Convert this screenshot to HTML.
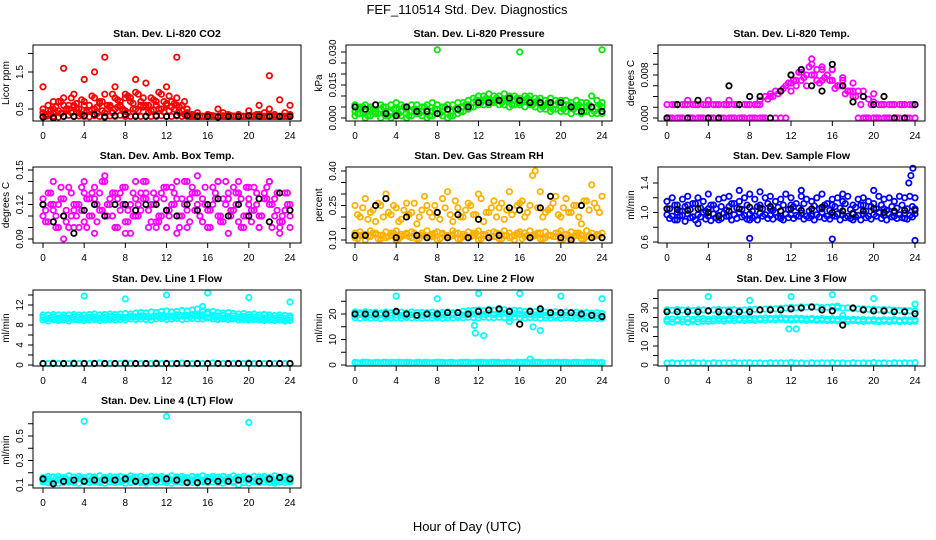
<!DOCTYPE html>
<html><head><meta charset="utf-8"><style>
body{margin:0;background:#fff;}
svg{display:block;font-family:"Liberation Sans",Arial,sans-serif;}
</style></head><body>
<svg id="chart" width="936" height="540" viewBox="0 0 936 540">
<text x="467" y="14" font-size="13" text-anchor="middle">FEF_110514  Std. Dev. Diagnostics</text>
<text x="467" y="531" font-size="13" text-anchor="middle">Hour of Day (UTC)</text>
</svg>
<script>
// ---- data (evenly spaced over 0-24 h unless x given; 48-length arrays sit at half-hour midpoints) ----
const hourTicks = [0,4,8,12,16,20,24];
// CO2
const co2A = [0.3,0.32,0.3,0.28,0.3,0.33,0.3,0.31,0.3,0.29,0.32,0.3,0.3,0.31,0.3,0.33,0.3,0.3,0.32,0.3,0.31,0.3,0.3,0.32,0.3,0.3,0.31,0.3,0.3,0.3,0.31,0.3,0.3,0.32,0.3,0.3,0.3,0.31,0.3,0.3,0.3,0.32,0.3,0.3,0.31,0.3,0.3,0.3,0.3];
const co2B = [0.5,0.6,0.4,0.7,0.8,0.6,0.9,0.5,0.7,0.6,0.8,0.7,0.9,0.6,0.8,0.7,0.9,0.8,0.95,0.7,0.6,0.8,0.7,0.9,0.6,0.7,0.8,0.6,0.5,0.35,0.3,0.3,0.35,0.3,0.3,0.4,0.3,0.3,0.35,0.3,0.3,0.3,0.35,0.4,0.5,0.35,0.3,0.4,0.35];
const co2D = [0.4,0.35,0.5,0.45,0.6,0.5,0.55,0.4,0.6,0.45,0.5,0.65,0.4,0.55,0.5,0.6,0.45,0.7,0.5,0.6,0.55,0.45,0.6,0.5,0.65,0.55,0.6,0.45,0.4,0.3,0.32,0.3,0.3,0.3,0.3,0.32,0.3,0.3,0.3,0.3,0.3,0.3,0.32,0.3,0.3,0.3,0.3,0.3,0.3];
const co2E = [0.35,0.45,0.55,0.7,0.5,0.8,0.65,0.75,0.45,0.85,0.55,0.7,0.6,0.9,0.75,0.5,0.85,0.65,0.9,0.8,0.6,0.75,0.95,0.7,0.85,0.65,0.55,0.7,0.3,0.32,0.3,0.3,0.33,0.3,0.3,0.3,0.32,0.3,0.3,0.3,0.3,0.35,0.3,0.3,0.32,0.3,0.3,0.3];
const co2F = [0.3,0.35,0.4,0.38,0.45,0.4,0.5,0.35,0.42,0.48,0.38,0.45,0.5,0.4,0.55,0.45,0.4,0.5,0.45,0.55,0.4,0.48,0.5,0.42,0.45,0.5,0.4,0.35,0.3,0.3,0.3,0.3,0.3,0.3,0.3,0.3,0.3,0.3,0.3,0.3,0.3,0.3,0.3,0.3,0.3,0.3,0.3,0.3];
const co2C = [1.1,0.7,1.6,0.6,1.3,1.5,1.9,1.1,0.8,1.3,1.2,0.6,1.1,1.9,0.5,0.4,0.3,0.5,0.35,0.3,0.45,0.6,1.4,0.75,0.6];
const co2K = [0.28,0.26,0.3,0.3,0.32,0.35,0.28,0.32,0.35,0.3,0.3,0.32,0.3,0.33,0.32,0.3,0.3,0.28,0.3,0.3,0.32,0.3,0.3,0.3,0.3];
// Pressure
const pLow = [0.001,0.002,0,0.001,0.002,0,0.001,0,0.002,0.001,0,0.001,0.002,0.001,0,0.001,0.002,0.001,0,0.001,0.002,0.003,0.004,0.005,0.006,0.006,0.006,0.007,0.006,0.006,0.005,0.006,0.006,0.005,0.006,0.005,0.004,0.004,0.003,0.004,0.003,0.003,0.002,0.003,0.002,0.003,0.002,0.002,0.002];
const pMid = [0.003,0.004,0.003,0.004,0.003,0.004,0.003,0.003,0.004,0.003,0.004,0.003,0.004,0.003,0.004,0.003,0.004,0.003,0.004,0.003,0.004,0.005,0.006,0.007,0.008,0.008,0.008,0.008,0.008,0.008,0.008,0.008,0.007,0.008,0.008,0.007,0.006,0.006,0.006,0.006,0.005,0.006,0.005,0.005,0.005,0.005,0.005,0.005,0.005];
const pHigh = [0.006,0.005,0.006,0.005,0.006,0.006,0.005,0.006,0.007,0.006,0.005,0.006,0.006,0.005,0.006,0.007,0.006,0.005,0.006,0.006,0.007,0.007,0.008,0.009,0.010,0.010,0.011,0.010,0.010,0.011,0.010,0.010,0.009,0.010,0.010,0.009,0.009,0.008,0.009,0.008,0.008,0.008,0.007,0.008,0.007,0.007,0.010,0.008,0.007];
const pM2 = [0.002,0.005,0.001,0.004,0.002,0.005,0.001,0.004,0.002,0.005,0.001,0.004,0.002,0.005,0.001,0.004,0.002,0.005,0.001,0.004,0.003,0.006,0.005,0.008,0.007,0.009,0.007,0.009,0.007,0.009,0.006,0.009,0.007,0.009,0.006,0.008,0.005,0.007,0.004,0.007,0.004,0.006,0.004,0.006,0.003,0.006,0.003,0.006];
const pOutX = [8,16,24];
const pOut = [0.031,0.030,0.031];
const pK = [0.005,0.004,0.006,0.002,0.001,0.005,0.003,0.003,0.002,0.004,0.004,0.005,0.007,0.007,0.008,0.009,0.008,0.007,0.007,0.007,0.007,0.005,0.003,0.005,0.003];
// Li-820 temp
const tA = [0,0,0,0,0,0,0,0,0,0,0,0,0,0,0,0,0,0,0,0,0,0,0,0,0.005,0.006,0.007,0.006,0.008,0.007,0.009,0.008,0.007,0.006,0.006,0.005,0.004,0,0,0,0,0,0,0,0,0,0,0,0];
const tB = [0.0025,0.0025,0.0025,0.0025,0.0025,0.0025,0.0025,0.0025,0.0025,0.0025,0.0025,0.0025,0.0025,0.0025,0.0025,0.0025,0.0025,0.0025,0.0025,0.004,0.0045,0.005,0.005,0.006,0.008,0.007,0.009,0.008,0.010,0.009,0.007,0.008,0.009,0.006,0.007,0.005,0.005,0.005,0.004,0.0035,0.003,0.0025,0.0025,0.0025,0.0025,0.0025,0.0025,0.0025,0.0025];
const tD = [0,0.0025,0,0.0025,0,0.0025,0,0.0025,0,0.0025,0,0.0025,0,0.0025,0,0.0025,0,0.0025,0,0.0035,0.004,0.0045,0.0055,0.0065,0.007,0.0085,0.0075,0.0095,0.008,0.0065,0.0075,0.007,0.0055,0.006,0.0045,0.005,0.004,0.0025,0,0.0025,0,0.0025,0,0.0025,0,0.0025,0,0.0025];
const tC = [0,0.0025,0.0033,0.0025,0.0033,0.0025,0.0033,0.0025,0.0025,0.0033,0.004,0.005,0.0065,0.0085,0.011,0.0095,0.009,0.0075,0.0065,0.005,0.0045,0.0025,0.0025,0.0025,0.0025];
const tK = [0,0.0025,0,0.0033,0,0,0.006,0.0025,0.004,0.004,0,0.005,0.008,0.009,0.006,0.005,0.010,0.006,0.003,0.004,0.0025,0.004,0,0,0.0025];
// Amb box temp
const aA = [0.11,0.105,0.115,0.12,0.11,0.1,0.115,0.12,0.105,0.11,0.125,0.115,0.11,0.12,0.13,0.115,0.105,0.12,0.11,0.115,0.125,0.12,0.105,0.11,0.115,0.12,0.125,0.11,0.115,0.13,0.12,0.105,0.115,0.12,0.11,0.125,0.13,0.115,0.105,0.11,0.12,0.115,0.11,0.125,0.12,0.11,0.105,0.115,0.11];
const aB = [0.125,0.13,0.12,0.1,0.125,0.135,0.12,0.1,0.13,0.125,0.095,0.13,0.14,0.125,0.1,0.13,0.135,0.095,0.125,0.13,0.14,0.105,0.125,0.13,0.1,0.135,0.14,0.125,0.1,0.135,0.13,0.125,0.1,0.135,0.14,0.105,0.125,0.135,0.13,0.1,0.125,0.135,0.1,0.13,0.14,0.125,0.1,0.13,0.12];
const aD = [0.115,0.12,0.11,0.125,0.115,0.11,0.12,0.115,0.125,0.11,0.12,0.115,0.12,0.11,0.125,0.12,0.115,0.11,0.12,0.125,0.115,0.12,0.11,0.125,0.115,0.12,0.11,0.12,0.125,0.115,0.11,0.12,0.115,0.125,0.11,0.12,0.115,0.12,0.125,0.11,0.115,0.12,0.11,0.125,0.12,0.115,0.11,0.12];
const aE = [0.105,0.13,0.1,0.135,0.105,0.13,0.11,0.135,0.1,0.13,0.105,0.14,0.11,0.13,0.1,0.135,0.105,0.13,0.11,0.14,0.1,0.13,0.105,0.135,0.11,0.13,0.1,0.14,0.105,0.13,0.11,0.135,0.1,0.13,0.105,0.14,0.11,0.13,0.1,0.135,0.105,0.13,0.11,0.135,0.1,0.13,0.105,0.13];
const aC = [0.12,0.14,0.09,0.1,0.14,0.135,0.145,0.1,0.095,0.14,0.13,0.1,0.135,0.095,0.14,0.145,0.1,0.14,0.095,0.14,0.135,0.1,0.14,0.095,0.1];
const aK = [0.12,0.105,0.11,0.095,0.115,0.12,0.11,0.12,0.12,0.115,0.12,0.12,0.115,0.11,0.12,0.115,0.12,0.125,0.11,0.12,0.11,0.125,0.105,0.13,0.115];
// Gas stream RH
const rLow = [0.11,0.12,0.1,0.115,0.125,0.105,0.11,0.12,0.1,0.115,0.125,0.11,0.105,0.12,0.11,0.115,0.1,0.125,0.11,0.12,0.105,0.115,0.11,0.12,0.1,0.125,0.11,0.115,0.105,0.12,0.11,0.1,0.125,0.115,0.11,0.12,0.105,0.11,0.12,0.115,0.1,0.125,0.11,0.12,0.105,0.115,0.11,0.12,0.11];
const rLow2 = [0.13,0.135,0.125,0.14,0.13,0.12,0.135,0.13,0.14,0.125,0.13,0.135,0.12,0.13,0.14,0.125,0.135,0.13,0.12,0.14,0.13,0.125,0.135,0.13,0.14,0.12,0.13,0.135,0.125,0.14,0.13,0.12,0.135,0.13,0.14,0.125,0.13,0.135,0.12,0.13,0.14,0.125,0.135,0.13,0.12,0.14,0.13,0.125,0.13];
const rLow3 = [0.105,0.12,0.115,0.13,0.105,0.12,0.115,0.13,0.105,0.12,0.115,0.13,0.105,0.12,0.115,0.13,0.105,0.12,0.115,0.13,0.105,0.12,0.115,0.13,0.105,0.12,0.115,0.13,0.105,0.12,0.115,0.13,0.105,0.12,0.115,0.13,0.105,0.12,0.115,0.13,0.105,0.12,0.115,0.13,0.105,0.12,0.115,0.12];
const rUp = [0.25,0.2,0.28,0.22,0.18,0.25,0.3,0.21,0.24,0.19,0.26,0.22,0.17,0.23,0.25,0.2,0.22,0.28,0.31,0.18,0.24,0.2,0.26,0.21,0.3,0.18,0.22,0.27,0.24,0.19,0.31,0.23,0.26,0.2,0.25,0.4,0.31,0.22,0.24,0.29,0.2,0.28,0.22,0.25,0.17,0.27,0.34,0.24,0.29];
const rUp2 = [0.21,0.24,0.19,0.23,0.26,0.2,0.22,0.25,0.18,0.23,0.21,0.26,0.2,0.29,0.22,0.25,0.19,0.24,0.21,0.27,0.2,0.23,0.25,0.21,0.28,0.22,0.24,0.2,0.26,0.23,0.21,0.25,0.27,0.22,0.38,0.24,0.2,0.23,0.26,0.21,0.24,0.22,0.25,0.2,0.27,0.23,0.26,0.22];
const rK = [0.12,0.12,0.25,0.28,0.11,0.2,0.12,0.11,0.22,0.11,0.21,0.11,0.19,0.11,0.12,0.24,0.23,0.11,0.24,0.29,0.11,0.1,0.25,0.11,0.11];
// Sample flow
const sA = [0.97,0.95,1.0,0.96,0.98,0.94,0.97,1.0,0.95,0.98,0.96,0.99,0.95,0.97,1.0,0.96,0.98,0.95,0.99,0.97,0.96,1.0,0.95,0.98,0.97,0.96,0.99,0.95,0.98,0.97,1.0,0.95,0.96,0.98,0.97,0.95,0.99,0.96,0.98,0.95,0.97,1.0,0.96,0.98,0.95,0.97,0.99,0.96,0.98];
const sB = [1.15,1.2,1.1,1.18,1.22,1.12,1.2,1.15,1.25,1.1,1.18,1.2,1.22,1.12,1.15,1.2,1.25,1.18,1.1,1.2,1.22,1.15,1.18,1.25,1.2,1.12,1.22,1.18,1.15,1.2,1.25,1.12,1.18,1.2,1.15,1.22,1.1,1.18,1.2,1.15,1.12,1.22,1.18,1.2,1.15,1.22,1.2,1.22,1.2];
const sD = [1.05,1.1,1.02,1.08,1.04,1.12,1.06,1.02,1.1,1.05,1.08,1.03,1.12,1.06,1.04,1.1,1.02,1.08,1.05,1.12,1.03,1.07,1.1,1.04,1.08,1.06,1.12,1.02,1.09,1.05,1.1,1.03,1.08,1.06,1.12,1.04,1.07,1.1,1.02,1.08,1.05,1.1,1.03,1.08,1.06,1.1,1.05,1.08];
const sE = [0.92,0.9,0.95,0.88,0.93,0.9,0.94,0.91,0.89,0.93,0.92,0.95,0.9,0.92,0.94,0.91,0.93,0.9,0.95,0.92,0.91,0.94,0.9,0.93,0.92,0.95,0.91,0.93,0.9,0.94,0.92,0.91,0.95,0.9,0.93,0.92,0.94,0.9,0.93,0.91,0.95,0.92,0.9,0.94,0.92,0.93,0.91,0.94];
const sC = [1.05,0.9,1.1,0.85,1.05,0.9,1.08,1.3,0.9,1.28,1.05,0.92,1.1,1.3,0.95,1.05,1.1,1.25,0.9,1.1,1.3,1.05,1.0,0.92,1.05];
const sOutX = [8,16,24,23.4,23.6,23.8];
const sOut = [0.65,0.64,0.62,1.4,1.5,1.6];
const sK = [1.05,1.04,1.03,1.05,1.0,0.95,1.02,1.05,1.07,1.06,1.08,1.02,1.05,1.03,1.05,1.07,1.0,1.02,0.98,1.02,1.05,1.0,1.02,1.03,1.03];
// Line 1
const l1A = [9.5,9.3,9.6,9.4,9.5,9.3,9.6,9.5,9.4,9.5,9.6,9.4,9.5,9.7,9.5,9.6,9.5,9.7,9.6,9.8,9.7,9.6,9.8,9.9,9.7,9.8,10,9.8,9.9,10.1,9.9,10,10.2,9.9,9.8,9.9,9.7,9.8,9.6,9.7,9.5,9.6,9.5,9.4,9.5,9.4,9.5,9.3,9.4];
const l1B = [9,8.8,9.1,8.9,9,8.8,9.1,9,8.9,9,9.1,8.9,9,9.1,9,9.1,9,9.2,9.1,9.2,9.1,9,9.2,9.3,9.1,9.2,9.3,9.1,9.2,9.3,9.2,9.2,9.4,9.2,9.1,9.2,9.1,9.2,9,9.1,9,9.1,9,8.9,9,8.9,9,8.8,8.9];
const l1C = [10,10,10.1,10,10,10,10.1,10,10,10.1,10.2,10,10.1,10.2,10.1,10.2,10.3,10.2,10.4,10.5,10.4,10.6,10.5,10.7,10.8,10.6,10.7,10.9,10.8,11,11.2,10.8,10.6,10.7,10.5,10.4,10.5,10.3,10.2,10.3,10.1,10.2,10,10.1,10,9.9,10,9.9,9.8];
const l1D = [9.2,9.4,9.1,9.3,9.2,9.4,9.1,9.3,9.2,9.4,9.2,9.3,9.4,9.3,9.5,9.4,9.5,9.6,9.5,9.6,9.5,9.7,9.6,9.5,9.7,9.6,9.8,9.7,9.6,9.8,9.7,9.6,9.5,9.6,9.4,9.5,9.3,9.4,9.3,9.2,9.3,9.2,9.1,9.2,9.1,9.2,9.0,9.1];
const l1Z = [0.3,0.3,0.4,0.3,0.3,0.3,0.4,0.3,0.3,0.3,0.3,0.4,0.3,0.3,0.3,0.3,0.4,0.3,0.3,0.3,0.3,0.3,0.4,0.3,0.3,0.3,0.3,0.4,0.3,0.3,0.3,0.3,0.3,0.4,0.3,0.3,0.3,0.3,0.3,0.3,0.4,0.3,0.3,0.3,0.3,0.3,0.3,0.3,0.3];
const l1OutX = [4,8,12,15.5,16,20,24];
const l1Out = [13.8,13.2,14,11.7,14.4,13.5,12.6];
const l1K = [0.3,0.3,0.3,0.3,0.3,0.3,0.3,0.3,0.3,0.3,0.3,0.3,0.3,0.3,0.3,0.3,0.3,0.3,0.3,0.3,0.3,0.3,0.3,0.3,0.3];
// Line 2
const l2A = [19.5,19.8,19.4,19.6,19.5,19.7,19.3,19.5,19.6,19.4,19.5,19.7,19.5,19.4,19.6,19.5,19.3,19.6,19.5,19.7,19.4,19.6,19.8,20,19.6,19.9,20.2,19.8,20,20.3,19.9,20.1,20,19.7,19.9,19.6,19.8,19.5,19.6,19.4,19.6,19.5,19.3,19.5,19.4,19.2,19.4,19.3,19.2];
const l2B = [18.5,18.3,18.6,18.4,18.5,18.2,18.6,18.4,18.5,18.3,18.6,18.4,18.5,18.3,18.5,18.4,18.6,18.3,18.5,18.4,18.6,18.5,18.7,18.6,18.4,18.8,18.6,18.5,18.7,18.6,18.5,18.7,18.5,18.4,18.6,18.5,18.3,18.5,18.4,18.6,18.3,18.5,18.4,18.2,18.4,18.3,18.4,18.2,18.3];
const l2C = [20.8,20.5,20.9,20.6,20.7,20.4,20.8,20.5,20.6,20.7,20.4,20.8,20.5,20.6,20.5,20.7,20.4,20.6,20.8,20.5,20.7,21,21.2,21.4,21.6,21.3,21.8,21.5,21.4,21.7,21.2,21.5,21.3,21,21.2,20.9,21,20.8,20.7,20.9,20.6,20.8,20.5,20.7,20.4,20.6,20.3,20.5,20.2];
const l2Z = [1,0.8,1.1,0.9,1,0.8,1.1,1,0.9,1,1.1,0.9,1,0.8,1,0.9,1.1,1,0.9,1,0.8,1,1.1,0.9,1,1,0.9,1.1,1,0.9,1,0.8,1,1.1,0.9,1,1,0.9,1,1.1,0.9,1,0.8,1,0.9,1.1,1,0.9,1];
const l2Z2 = [0.9,1.1,1,0.8,1,1.1,0.9,1,1.1,0.9,1,0.8,1.1,1,0.9,1,1.1,0.9,1,0.8,1,1.1,0.9,1,1,0.9,1.1,1,0.8,1,0.9,1.1,1,0.9,1,1.1,0.9,1,0.8,1,1.1,0.9,1,1,0.9,1.1,1,0.9];
const l2OutX = [4,8,12,16,20,24,11.7,12.5,15,17.3,18,11.6,17];
const l2Out = [27,26,28,28,27,26,12.5,11.5,17,15,13.5,15.5,2.3];
const l2K = [20,20,20,20,21,20,19.5,20,20,20.5,20.5,20,21,21.5,22,21,16,21,22,20.5,20.5,20.5,20,19.5,19];
// Line 3
const l3A = [29,28.8,29.2,28.9,29,28.7,29.1,29,28.8,29,29.2,28.9,29,29.1,28.8,29,29.2,29.3,29.1,29.4,29.6,29.5,29.8,30,30.3,30.1,30.6,30.4,30.8,30.5,30.2,30.4,30.6,30.2,29.9,30.1,29.7,29.5,29.6,29.3,29.4,29.1,29.2,29,28.9,28.8,28.7,28.5,28.3];
const l3B = [23,22.6,23.2,22.8,22.5,23,22.7,23.1,22.9,23.2,23.4,23.1,23.5,23.3,23.6,23.4,23.7,23.5,23.8,23.6,23.9,23.7,24,23.8,23.6,23.9,23.7,23.5,23.8,23.4,23.6,23.3,23.5,23.2,23.4,23,23.3,23.1,22.9,23.2,23,22.8,23.1,22.9,23.1,22.8,23,22.9,23];
const l3C = [24,24.2,23.9,24.1,24.3,24,24.2,24.4,24.1,24.3,24.5,24.2,24.4,24.6,24.3,24.5,24.7,24.4,24.6,24.8,24.5,24.7,24.9,24.6,24.4,24.7,24.5,24.3,24.6,24.2,24.4,24.1,24.3,24,24.2,23.9,24.1,23.8,24,23.7,23.9,23.6,23.8,23.7,23.9,23.6,23.8,23.7,23.8];
const l3Z = [1,1.2,0.9,1.1,1,1.3,1,1.1,0.9,1.2,1,1.1,1,1.3,1,1.1,1.2,1,1.1,0.9,1.2,1,1.1,1,1.3,1,1.1,0.9,1.2,1,1.1,1,1.2,1,1.1,0.9,1.2,1,1.1,1,1.3,1,1.1,0.9,1.2,1,1.1,1,1.2];
const l3OutX = [4,8,12,16,20,24,12.5,11.8,17,16.5];
const l3Out = [36,34,36,37,35,32,19,19,26,31];
const l3K = [28,28,28,28,28.5,28,28,28,28,29,29,29,29.5,30,30.5,29,28.5,21,30,29,28.5,28.5,28,28,27];
// Line 4
const l4A = [0.14,0.15,0.13,0.14,0.15,0.14,0.13,0.15,0.14,0.14,0.15,0.13,0.14,0.15,0.14,0.13,0.14,0.15,0.14,0.13,0.15,0.14,0.14,0.15,0.13,0.14,0.15,0.14,0.13,0.14,0.15,0.14,0.13,0.15,0.14,0.14,0.15,0.13,0.14,0.15,0.14,0.13,0.14,0.15,0.14,0.13,0.15,0.14,0.14];
const l4B = [0.16,0.17,0.165,0.17,0.16,0.175,0.165,0.17,0.16,0.17,0.165,0.175,0.16,0.17,0.165,0.17,0.16,0.175,0.165,0.17,0.16,0.17,0.165,0.17,0.16,0.175,0.165,0.17,0.16,0.17,0.165,0.175,0.16,0.17,0.165,0.17,0.16,0.175,0.165,0.17,0.16,0.17,0.165,0.17,0.16,0.175,0.165,0.17,0.16];
const l4C = [0.125,0.12,0.125,0.115,0.12,0.125,0.12,0.115,0.125,0.12,0.125,0.12,0.115,0.125,0.12,0.125,0.115,0.12,0.125,0.12,0.115,0.125,0.12,0.125,0.12,0.115,0.125,0.12,0.125,0.12,0.115,0.125,0.12,0.125,0.12,0.115,0.125,0.12,0.1,0.12,0.115,0.125,0.12,0.125,0.12,0.115,0.125,0.12,0.125];
const l4D = [0.145,0.135,0.155,0.14,0.15,0.135,0.145,0.155,0.14,0.15,0.135,0.145,0.155,0.14,0.15,0.135,0.145,0.155,0.14,0.15,0.135,0.145,0.155,0.14,0.15,0.135,0.145,0.155,0.14,0.15,0.135,0.145,0.155,0.14,0.15,0.135,0.145,0.155,0.14,0.15,0.135,0.145,0.155,0.14,0.15,0.135,0.145,0.15];
const l4OutX = [4,12,20];
const l4Out = [0.62,0.66,0.61];
const l4K = [0.15,0.11,0.13,0.14,0.13,0.14,0.14,0.14,0.15,0.13,0.13,0.14,0.15,0.14,0.12,0.12,0.13,0.13,0.13,0.14,0.15,0.13,0.15,0.16,0.15];

// ---- layout ----
const NS = 'http://www.w3.org/2000/svg';
const svg = document.getElementById('chart');
const RED='#ff0000',GRN='#00ee00',MAG='#ff00ff',ORG='#ffb000',BLU='#0000ff',CYN='#00ffff',BLK='#000000';
const cols = [{l:33,r:301,x0:43,x24:290},{l:346,r:612,x0:355,x24:602},{l:658,r:925,x0:667,x24:915}];
const rows = [{t:45,b:121},{t:167,b:243},{t:290,b:366},{t:412,b:488}];
const panels = [
 {name:'co2',title:'Stan. Dev. Li-820 CO2',ylab:'Licor ppm',c:0,r:0,v1:0.5,p1:109,v2:1.5,p2:72,ticks:[0.5,1,1.5,2],labels:['0.5','1.5'],
  series:[[co2A,RED],[co2F,RED],[co2D,RED],[co2E,RED],[co2B,RED],[co2C,RED],[co2K,BLK]]},
 {name:'pressure',title:'Stan. Dev. Li-820 Pressure',ylab:'kPa',c:1,r:0,v1:0,p1:118,v2:0.03,p2:52,ticks:[0,0.005,0.01,0.015,0.02,0.025,0.03],labels:['0.000','0.015','0.030'],
  series:[[pLow,GRN],[pMid,GRN],[pM2,GRN],[pHigh,GRN],[pOut,GRN,pOutX],[pK,BLK]]},
 {name:'li820-temp',title:'Stan. Dev. Li-820 Temp.',ylab:'degrees C',c:2,r:0,v1:0,p1:118,v2:0.008,p2:75,ticks:[0,0.002,0.004,0.006,0.008,0.01,0.012],labels:['0.000','0.008'],
  series:[[tA,MAG],[tB,MAG],[tD,MAG],[tC,MAG],[tK,BLK]]},
 {name:'amb-box-temp',title:'Stan. Dev. Amb. Box Temp.',ylab:'degrees C',c:0,r:1,v1:0.09,p1:239,v2:0.15,p2:170,ticks:[0.09,0.1,0.11,0.12,0.13,0.14,0.15],labels:['0.09','0.12','0.15'],
  series:[[aA,MAG],[aB,MAG],[aD,MAG],[aE,MAG],[aC,MAG],[aK,BLK]]},
 {name:'gas-rh',title:'Stan. Dev. Gas Stream RH',ylab:'percent',c:1,r:1,v1:0.1,p1:240,v2:0.4,p2:171,ticks:[0.1,0.15,0.2,0.25,0.3,0.35,0.4],labels:['0.10','0.25','0.40'],
  series:[[rLow,ORG],[rLow2,ORG],[rLow3,ORG],[rUp,ORG],[rUp2,ORG],[rK,BLK]]},
 {name:'sample-flow',title:'Stan. Dev. Sample Flow',ylab:'ml/min',c:2,r:1,v1:0.6,p1:242,v2:1.4,p2:183,ticks:[0.6,0.8,1,1.2,1.4],labels:['0.6','1.0','1.4'],
  series:[[sA,BLU],[sB,BLU],[sD,BLU],[sE,BLU],[sC,BLU],[sOut,BLU,sOutX],[sK,BLK]]},
 {name:'line1-flow',title:'Stan. Dev. Line 1 Flow',ylab:'ml/min',c:0,r:2,v1:0,p1:365,v2:12,p2:305,ticks:[0,2,4,6,8,10,12,14],labels:['0','4','8','12'],
  series:[[l1B,CYN],[l1A,CYN],[l1D,CYN],[l1C,CYN],[l1Z,CYN],[l1Out,CYN,l1OutX],[l1K,BLK]]},
 {name:'line2-flow',title:'Stan. Dev. Line 2 Flow',ylab:'ml/min',c:1,r:2,v1:0,p1:365,v2:20,p2:314,ticks:[0,5,10,15,20,25],labels:['0','10','20'],
  series:[[l2B,CYN],[l2A,CYN],[l2C,CYN],[l2Z,CYN],[l2Z2,CYN],[l2Out,CYN,l2OutX],[l2K,BLK]]},
 {name:'line3-flow',title:'Stan. Dev. Line 3 Flow',ylab:'ml/min',c:2,r:2,v1:0,p1:365,v2:30,p2:308,ticks:[0,5,10,15,20,25,30,35],labels:['0','10','20','30'],
  series:[[l3A,CYN],[l3B,CYN],[l3C,CYN],[l3Z,CYN],[l3Out,CYN,l3OutX],[l3K,BLK]]},
 {name:'line4-flow',title:'Stan. Dev. Line 4 (LT) Flow',ylab:'ml/min',c:0,r:3,v1:0.1,p1:485,v2:0.5,p2:436,ticks:[0.1,0.2,0.3,0.4,0.5,0.6],labels:['0.1','0.3','0.5'],
  series:[[l4A,CYN],[l4B,CYN],[l4C,CYN],[l4D,CYN],[l4Out,CYN,l4OutX],[l4K,BLK]]}
];

function mk(tag, attrs, parent){
  const e = document.createElementNS(NS, tag);
  for (const k in attrs) e.setAttribute(k, attrs[k]);
  parent.appendChild(e);
  return e;
}

panels.forEach(p => {
  const C = cols[p.c], R = rows[p.r];
  const xs = h => C.x0 + (C.x24 - C.x0) * h / 24;
  const ys = v => p.p1 + (p.p2 - p.p1) * (v - p.v1) / (p.v2 - p.v1);
  const g = mk('g', {}, svg);
  
  
  const title = mk('text', {x:(C.l+C.r)/2, y:R.t-8, 'font-size':10.5, 'font-weight':'bold', 'text-anchor':'middle'}, g);
  title.textContent = p.title;
  
  
  p.series.forEach((s, si) => {
    const vals = s[0], col = s[1], xarr = s[2];
    const sg = mk('g', {fill:'none', stroke:col, 'stroke-width':1.8}, g);
    
    
    vals.forEach((v, i) => {
      let h;
      if (xarr) h = xarr[i];
      else if (vals.length === 48) h = (i + 0.5) * 24 / 48;
      else h = i * 24 / (vals.length - 1);
      const c = mk('circle', {cx:xs(h).toFixed(1), cy:ys(v).toFixed(1), r:2.7}, sg);
      
      
    });
  });
  const box = mk('rect', {x:C.l, y:R.t, width:C.r-C.l, height:R.b-R.t, fill:'none', stroke:'#000', 'stroke-width':1}, g);
  
  
  const xa = mk('g', {stroke:'#000','stroke-width':1}, g);
  
  
  mk('line', {x1:xs(0), x2:xs(24), y1:R.b, y2:R.b}, xa);
  hourTicks.forEach(h => {
    mk('line', {x1:xs(h), x2:xs(h), y1:R.b, y2:R.b+5}, xa);
    const t = mk('text', {x:xs(h), y:R.b+18, 'font-size':10, 'text-anchor':'middle', stroke:'none', fill:'#000'}, xa);
    t.textContent = h;
    
    
  });
  const ya = mk('g', {stroke:'#000','stroke-width':1}, g);
  
  
  mk('line', {x1:C.l, x2:C.l, y1:ys(p.ticks[0]), y2:ys(p.ticks[p.ticks.length-1])}, ya);
  p.ticks.forEach(v => { mk('line', {x1:C.l-5, x2:C.l, y1:ys(v), y2:ys(v)}, ya); });
  p.labels.forEach(lb => {
    const y = ys(parseFloat(lb)), x = C.l - 10;
    const t = mk('text', {x:x, y:y, 'font-size':10, 'text-anchor':'middle', transform:'rotate(-90 '+x+' '+y+')', stroke:'none', fill:'#000'}, ya);
    t.textContent = lb;
    
    
  });
  const yx = C.l - 24, yy = (R.t + R.b) / 2;
  const yt = mk('text', {x:yx, y:yy, 'font-size':10, 'text-anchor':'middle', transform:'rotate(-90 '+yx+' '+yy+')'}, g);
  yt.textContent = p.ylab;
  
  
});
</script>
</body></html>
